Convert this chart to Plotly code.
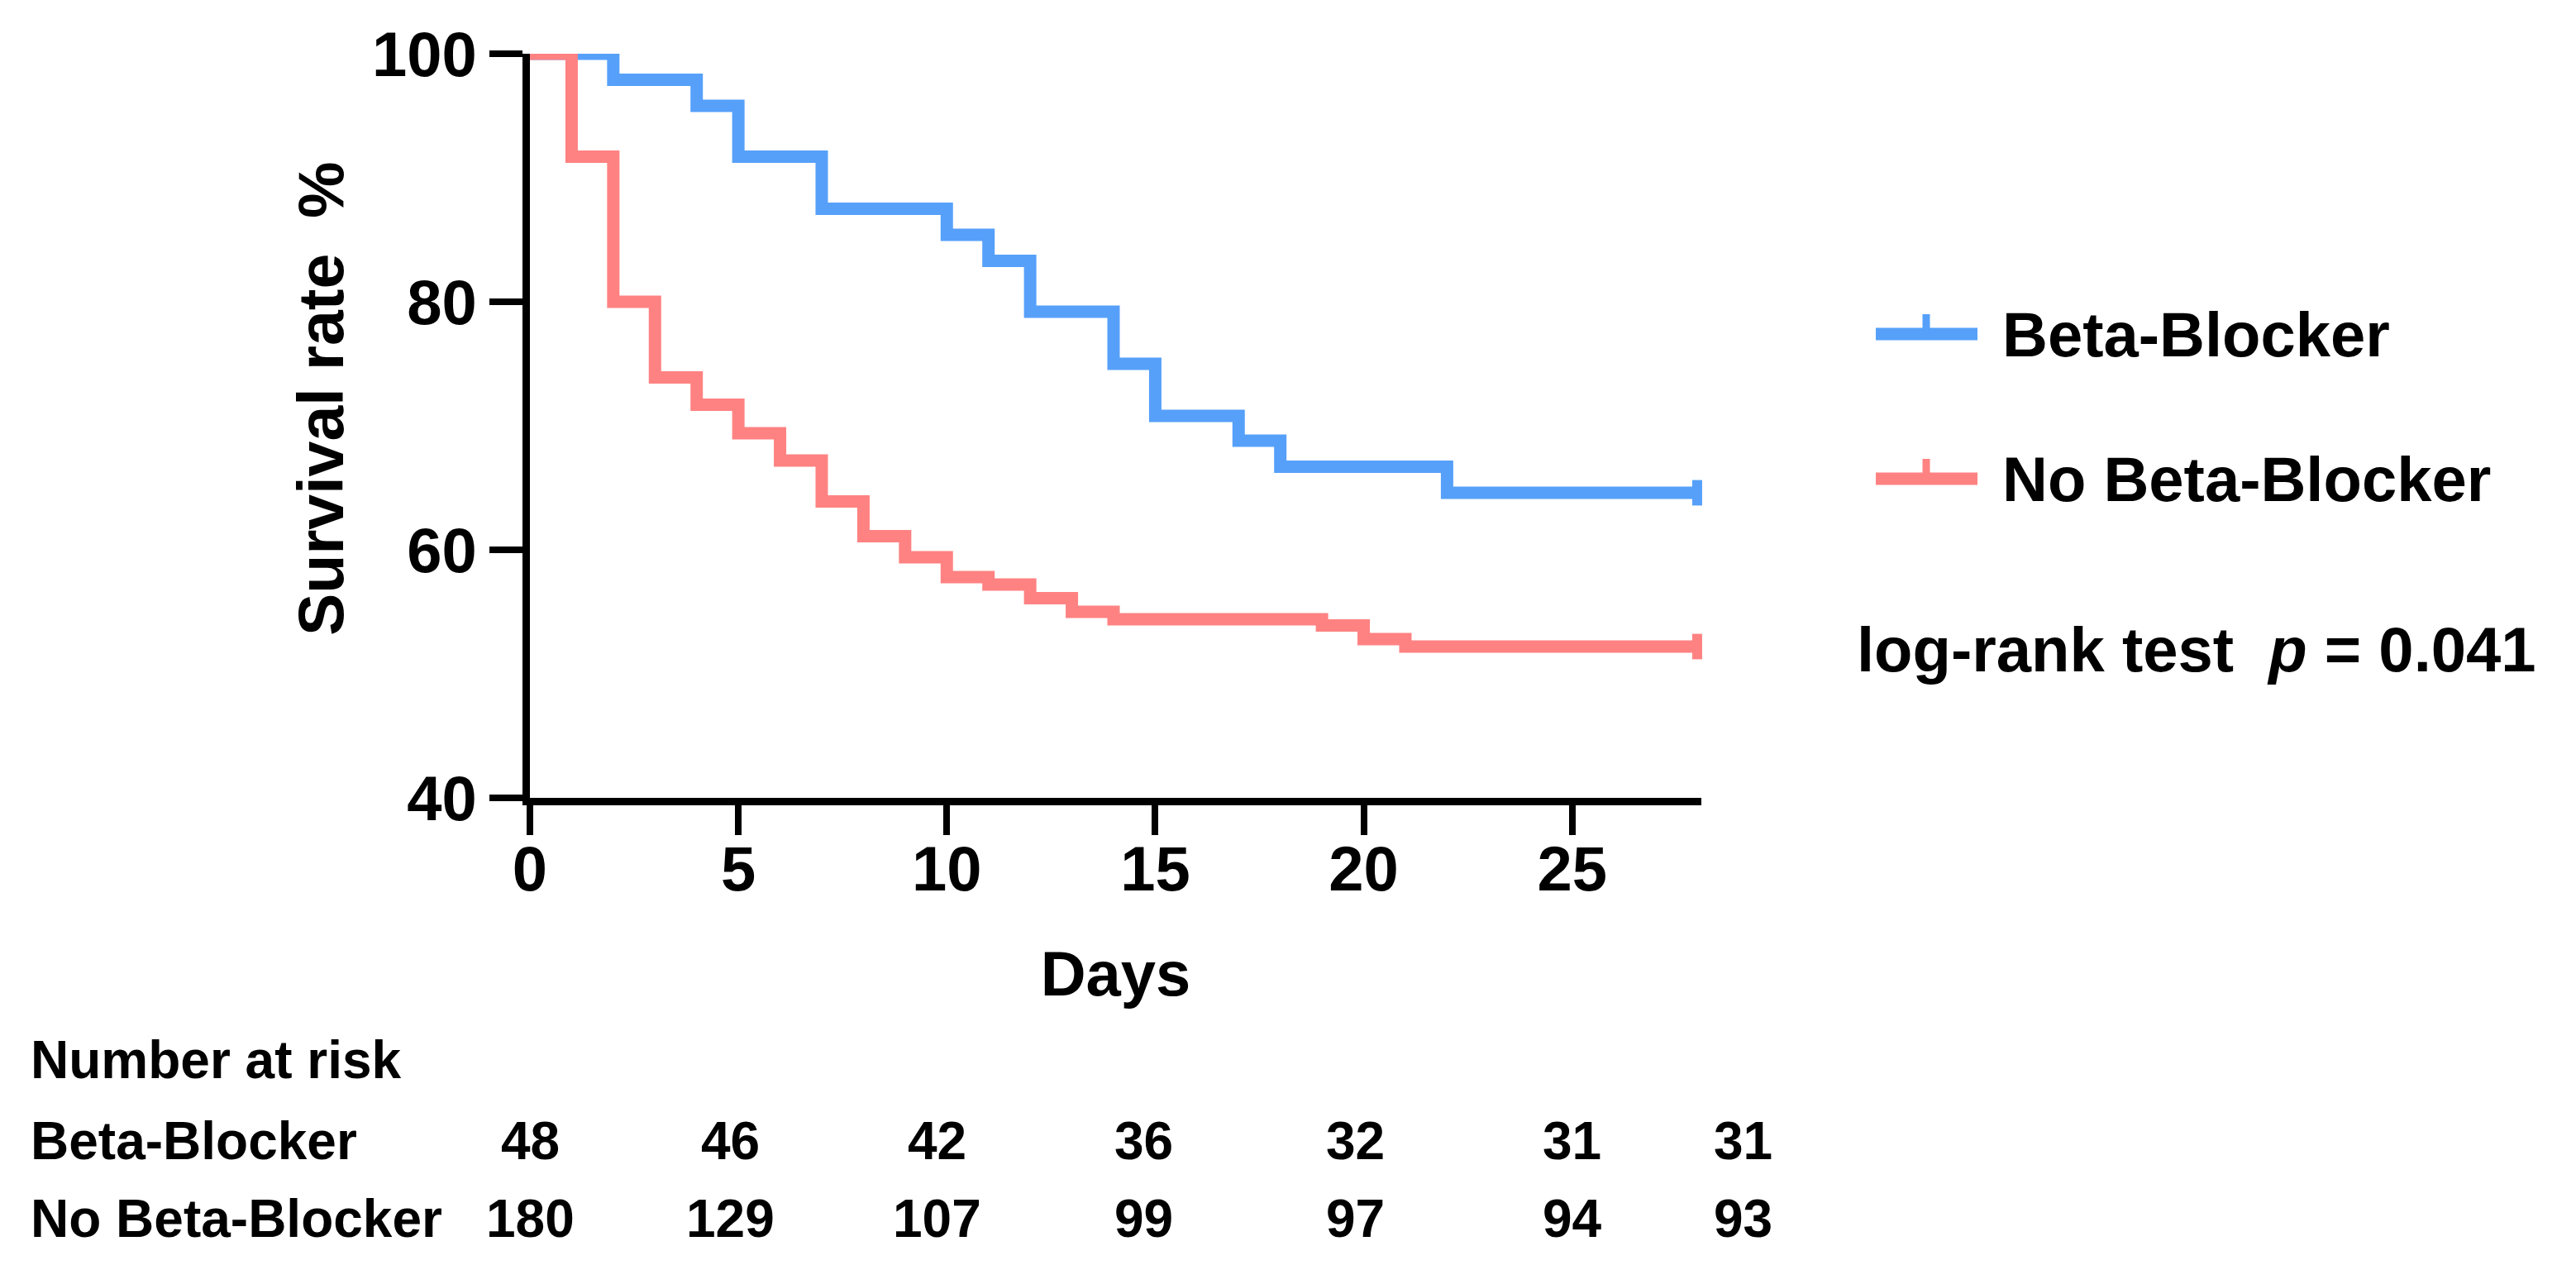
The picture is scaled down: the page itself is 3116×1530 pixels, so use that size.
import plotly.graph_objects as go

# ---- data ----
bb_days = [0, 2, 4, 5, 7, 10, 11, 12, 14, 15, 17, 18, 22, 28]
bb_surv = [100, 97.9, 95.8, 91.7, 87.5, 85.4, 83.3, 79.2, 75.0, 70.8, 68.8, 66.7, 64.6, 64.6]

nobb_days = [0, 1, 2, 3, 4, 5, 6, 7, 8, 9, 10, 11, 12, 13, 14, 19, 20, 21, 28]
nobb_surv = [100, 91.7, 80.0, 73.9, 71.7, 69.4, 67.2, 63.9, 61.1, 59.4, 57.8, 57.2, 56.1, 55.0, 54.4, 53.9, 52.8, 52.2, 52.2]

risk_days = [0, 5, 10, 15, 20, 25, 28]
risk_bb = [48, 46, 42, 36, 32, 31, 31]
risk_nobb = [180, 129, 107, 99, 97, 94, 93]

x_ticks = [0, 5, 10, 15, 20, 25]
y_ticks = [40, 60, 80, 100]

BLUE = "#56A0FA"
RED = "#FF8282"
FONT = "Liberation Sans, Arial, Helvetica, sans-serif"

W, H = 3116, 1530
L, R, T, B = 633, 3116 - 2050, 57, 1530 - 957
PW, PH = W - L - R, H - T - B


def px_x(p):
    return (p - L) / PW


def px_y(p):
    return (H - B - p) / PH


fig = go.Figure()
for days, surv, col, name in [(bb_days, bb_surv, BLUE, "Beta-Blocker"),
                              (nobb_days, nobb_surv, RED, "No Beta-Blocker")]:
    fig.add_trace(go.Scatter(x=days, y=surv, mode="lines", name=name,
                             line=dict(color=col, width=15, shape="hv"),
                             showlegend=False, hoverinfo="skip"))
    fig.add_trace(go.Scatter(x=[days[-1]], y=[surv[-1]], mode="markers",
                             marker=dict(symbol="line-ns", size=22,
                                         line=dict(color=col, width=12)),
                             showlegend=False, hoverinfo="skip", cliponaxis=False))

fig.update_layout(
    width=W, height=H,
    margin=dict(l=L, r=R, t=T, b=B),
    paper_bgcolor="white", plot_bgcolor="white",
    font=dict(family=FONT, size=76, color="black", weight="bold"),
    xaxis=dict(range=[0, 28.1], tickvals=x_ticks, showgrid=False, zeroline=False,
               showline=True, linecolor="black", linewidth=9,
               ticks="outside", ticklen=36, tickwidth=8, tickcolor="black",
               ticklabelstandoff=-24,
               tickfont=dict(size=76, family=FONT, weight="bold"),
               title=dict(text="Days", standoff=62,
                          font=dict(size=76, family=FONT, weight="bold"))),
    yaxis=dict(range=[40, 100], tickvals=y_ticks, showgrid=False, zeroline=False,
               showline=True, linecolor="black", linewidth=9,
               ticks="outside", ticklen=40, tickwidth=8, tickcolor="black",
               tickfont=dict(size=76, family=FONT, weight="bold")),
)

# y-axis title
fig.add_annotation(text="Survival rate  %", xref="paper", yref="paper",
                   x=px_x(380), y=px_y(474), xanchor="center", yanchor="middle",
                   textangle=-90, showarrow=False,
                   font=dict(size=77, family=FONT, weight="bold"))

# legend (manual)
leg = [("Beta-Blocker", BLUE, 396), ("No Beta-Blocker", RED, 571)]
for label, col, ypx in leg:
    y = px_y(ypx)
    fig.add_shape(type="line", xref="paper", yref="paper",
                  x0=px_x(2261), x1=px_x(2384), y0=y, y1=y,
                  line=dict(color=col, width=15))
    fig.add_shape(type="line", xref="paper", yref="paper",
                  x0=px_x(2322), x1=px_x(2322), y0=y, y1=px_y(ypx - 24),
                  line=dict(color=col, width=9))
    fig.add_annotation(text=label, xref="paper", yref="paper",
                       x=px_x(2412), y=y, xanchor="left", yanchor="middle",
                       showarrow=False, font=dict(size=76, family=FONT, weight="bold"))

fig.add_annotation(text="log-rank test  <i>p</i> = 0.041", xref="paper", yref="paper",
                   x=px_x(2236), y=px_y(777), xanchor="left", yanchor="middle",
                   showarrow=False, font=dict(size=76, family=FONT, weight="bold"))

# number at risk table
TF = 64
rows = [("Number at risk", 1274, None), ("Beta-Blocker", 1372, risk_bb),
        ("No Beta-Blocker", 1466, risk_nobb)]
shifts = [0, -10, -12, -14, -10, 0, 56]
for label, ypx, vals in rows:
    fig.add_annotation(text=label, xref="paper", yref="paper",
                       x=px_x(27), y=px_y(ypx), xanchor="left", yanchor="middle",
                       showarrow=False, font=dict(size=TF, family=FONT, weight="bold"))
    if vals is None:
        continue
    for d, v, s in zip(risk_days, vals, shifts):
        fig.add_annotation(text=str(v), xref="x", yref="paper",
                           x=d, y=px_y(ypx), xanchor="center", yanchor="middle",
                           xshift=s, showarrow=False,
                           font=dict(size=TF, family=FONT, weight="bold"))

fig.write_html("out.html")
